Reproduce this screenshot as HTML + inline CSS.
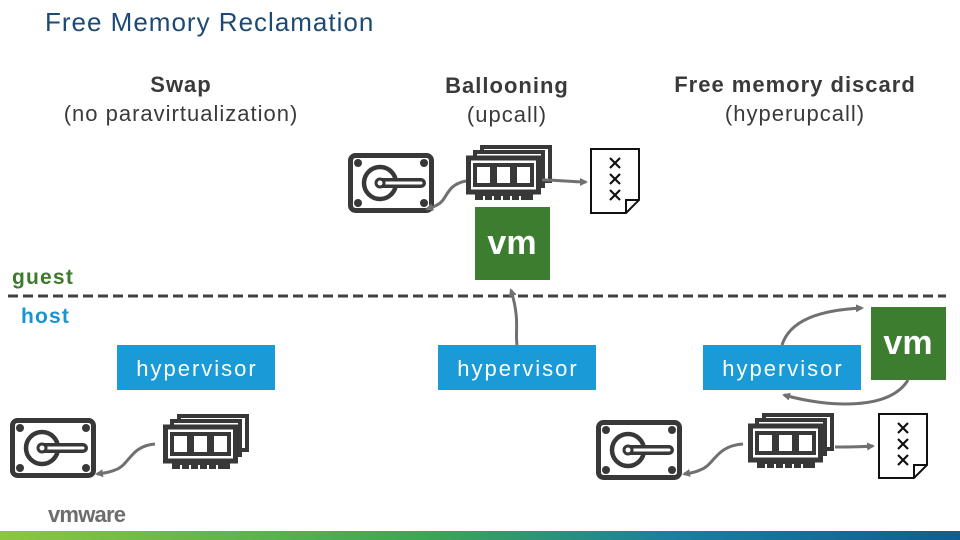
<!DOCTYPE html>
<html><head><meta charset="utf-8"><style>
html,body{margin:0;padding:0;background:#fff}
body{width:960px;height:540px;overflow:hidden;position:relative;font-family:"Liberation Sans",sans-serif}
</style></head><body>
<svg width="960" height="540" viewBox="0 0 960 540" xmlns="http://www.w3.org/2000/svg" style="position:absolute;left:0;top:0">
<defs>
<linearGradient id="bar" x1="0" x2="1" y1="0" y2="0">
<stop offset="0" stop-color="#8cc63f"/><stop offset="0.45" stop-color="#3aa655"/><stop offset="0.7" stop-color="#1a7fa0"/><stop offset="1" stop-color="#0d5f91"/>
</linearGradient>
<marker id="ah" markerWidth="8" markerHeight="8" refX="6" refY="4" orient="auto" markerUnits="userSpaceOnUse"><path d="M0,0 L8,4 L0,8 Z" fill="#707070"/></marker>
<g id="disk">
<rect x="2.5" y="2.5" width="81" height="55" rx="5" fill="#fff" stroke="#383838" stroke-width="5"/>
<circle cx="10" cy="10" r="4" fill="#383838"/><circle cx="76" cy="10" r="4" fill="#383838"/>
<circle cx="10" cy="50" r="4" fill="#383838"/><circle cx="76" cy="50" r="4" fill="#383838"/>
<circle cx="32" cy="30" r="16" fill="none" stroke="#383838" stroke-width="4.5"/>
<line x1="33" y1="30" x2="73" y2="30" stroke="#383838" stroke-width="10" stroke-linecap="round"/>
<line x1="33" y1="30" x2="73" y2="30" stroke="#fff" stroke-width="3" stroke-linecap="round"/>
<circle cx="32" cy="30" r="4" fill="#fff" stroke="#383838" stroke-width="3"/>
</g>
<g id="ram">
<rect x="16" y="2" width="68" height="34" fill="#fff" stroke="#383838" stroke-width="4"/>
<rect x="9" y="7" width="68" height="34" fill="#fff" stroke="#383838" stroke-width="4"/>
<rect x="2.5" y="13" width="70" height="34" fill="#fff" stroke="#383838" stroke-width="5"/>
<rect x="9" y="20" width="17" height="20" fill="#fff" stroke="#383838" stroke-width="4"/>
<rect x="29" y="20" width="17" height="20" fill="#fff" stroke="#383838" stroke-width="4"/>
<rect x="49" y="20" width="17" height="20" fill="#fff" stroke="#383838" stroke-width="4"/>
<rect x="9" y="49" width="58" height="6" fill="#383838"/>
<g stroke="#fff" stroke-width="2"><line x1="18" y1="51" x2="18" y2="55"/><line x1="27" y1="51" x2="27" y2="55"/><line x1="36" y1="51" x2="36" y2="55"/><line x1="45" y1="51" x2="45" y2="55"/><line x1="54" y1="51" x2="54" y2="55"/></g>
</g>
<g id="doc">
<path d="M1,1 H49 V52 L36,65 H1 Z" fill="#fff" stroke="#111" stroke-width="2"/>
<path d="M49,52 H36 V65" fill="none" stroke="#111" stroke-width="2"/>
<g stroke="#111" stroke-width="2.2"><path d="M20,10 l10,10 M30,10 l-10,10 M20,26 l10,10 M30,26 l-10,10 M20,42 l10,10 M30,42 l-10,10"/></g>
</g>
</defs>

<text x="45" y="31" font-size="26" letter-spacing="1" fill="#1d4a74">Free Memory Reclamation</text>
<g font-size="22" letter-spacing="1" fill="#3a3a3a" text-anchor="middle">
<text x="181" y="92" font-weight="bold">Swap</text>
<text x="181" y="121">(no paravirtualization)</text>
<text x="507" y="93" font-weight="bold">Ballooning</text>
<text x="507" y="122">(upcall)</text>
<text x="795" y="92" font-weight="bold">Free memory discard</text>
<text x="795" y="121">(hyperupcall)</text>
</g>

<text x="12" y="284" font-size="21" font-weight="bold" letter-spacing="1.2" fill="#3d7a2c">guest</text>
<text x="21" y="323" font-size="21" font-weight="bold" letter-spacing="1.2" fill="#1a94cf">host</text>
<line x1="8" y1="296" x2="946" y2="296" stroke="#404040" stroke-width="3" stroke-dasharray="10,5"/>

<rect x="117" y="345" width="158" height="45" fill="#1a9ad6"/>
<rect x="438" y="345" width="158" height="45" fill="#1a9ad6"/>
<rect x="703" y="345" width="158" height="45" fill="#1a9ad6"/>
<g font-size="22" letter-spacing="2" fill="#fff" text-anchor="middle">
<text x="197" y="376">hypervisor</text>
<text x="518" y="376">hypervisor</text>
<text x="783" y="376">hypervisor</text>
</g>

<rect x="475" y="207" width="75" height="73" fill="#3c7d2f"/>
<text x="512" y="254" font-size="34" font-weight="bold" fill="#fff" text-anchor="middle">vm</text>
<rect x="871" y="307" width="75" height="73" fill="#3c7d2f"/>
<text x="908" y="354" font-size="34" font-weight="bold" fill="#fff" text-anchor="middle">vm</text>

<use href="#disk" x="348" y="153"/>
<use href="#ram" x="466" y="145"/>
<use href="#doc" x="590" y="148"/>
<use href="#disk" x="10" y="418"/>
<use href="#ram" x="163" y="414"/>
<use href="#disk" x="596" y="420"/>
<use href="#ram" x="748" y="413"/>
<use href="#doc" x="878" y="413"/>

<g fill="none" stroke="#707070" stroke-width="3" marker-end="url(#ah)">
<path d="M466,181 C445,185 448,200 437,205 C432,208 430,208 427,209"/>
<path d="M542,180 C560,180 570,182 586,182"/>
<path d="M517,345 C515,330 520,320 511,290"/>
<path d="M155,444 C130,446 130,465 115,470 C108,473 104,473 97,474"/>
<path d="M743,444 C715,446 715,465 700,470 C694,473 690,473 684,474"/>
<path d="M835,447 C850,447 860,447 873,446"/>
<path d="M782,345 C790,320 820,310 862,308"/>
<path d="M908,380 C890,410 830,408 784,395"/>
</g>

<text x="48" y="522" font-size="22" font-weight="bold" fill="#6d6d6d" letter-spacing="-0.8">vmware</text>
<rect x="0" y="531" width="960" height="9" fill="url(#bar)"/>
</svg>
</body></html>
